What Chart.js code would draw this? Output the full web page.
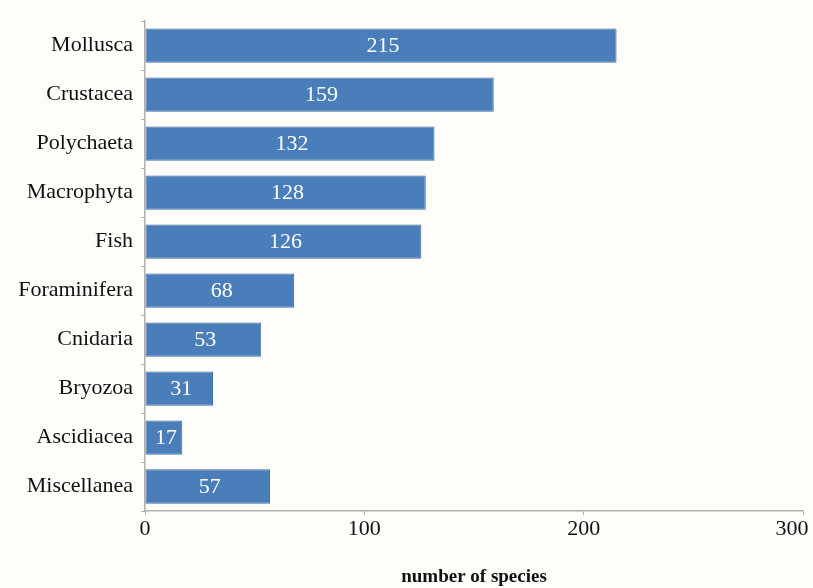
<!DOCTYPE html>
<html>
<head>
<meta charset="utf-8">
<script src="https://cdn.jsdelivr.net/npm/chart.js@4/dist/chart.umd.min.js"></script>
<style>
  html, body { margin: 0; padding: 0; background: #fffdfa; }
  #wrap { width: 813px; height: 588px; }
</style>
</head>
<body>
<div id="wrap"><canvas id="chart"></canvas></div>
<script>
const categories = ['Mollusca', 'Crustacea', 'Polychaeta', 'Macrophyta', 'Fish',
  'Foraminifera', 'Cnidaria', 'Bryozoa', 'Ascidiacea', 'Miscellanea'];
const species = [215, 159, 132, 128, 126, 68, 53, 31, 17, 57];
const xTicks = [0, 100, 200, 300];

const serif = '"Liberation Serif", "DejaVu Serif", serif';

// white value labels centred in each bar
const barLabels = {
  id: 'barLabels',
  afterDatasetsDraw(chart) {
    const ctx = chart.ctx;
    const meta = chart.getDatasetMeta(0);
    ctx.save();
    ctx.fillStyle = '#ffffff';
    ctx.font = '22px ' + serif;
    ctx.textAlign = 'center';
    ctx.textBaseline = 'middle';
    meta.data.forEach((bar, i) => {
      const cx = (bar.x + bar.base) / 2;
      ctx.fillText(String(species[i]), cx + 2, bar.y + 1);
    });
    ctx.restore();
  }
};

new Chart(document.getElementById('chart'), {
  type: 'bar',
  data: {
    labels: categories,
    datasets: [{
      data: species,
      backgroundColor: '#4a7ebb',
      borderColor: '#416fa6',
      borderWidth: 1,
      borderSkipped: false,
      categoryPercentage: 1,
      barPercentage: 0.7
    }]
  },
  options: {
    indexAxis: 'y',
    responsive: true,
    maintainAspectRatio: false,
    animation: false,
    layout: { padding: { left: 0, right: 0, top: 17, bottom: 0 } },
    plugins: {
      legend: { display: false },
      tooltip: { enabled: false }
    },
    scales: {
      x: {
        min: 0,
        max: 300,
        afterBuildTicks: (scale) => { scale.ticks = xTicks.map(v => ({ value: v })); },
        afterFit: (scale) => { scale.height = 77; scale.paddingRight = 10; },
        border: { display: true, color: '#b0b0b0', width: 1.5 },
        grid: { drawOnChartArea: false, tickLength: 4, color: '#b0b0b0' },
        ticks: {
          color: '#111',
          font: { family: serif, size: 22 },
          padding: 1,
          maxRotation: 0,
          // last label sits a little left of its tick, as in the original
          callback: (v) => v === 300 ? '300\u2007\u2007' : String(v)
        },
        title: {
          display: true,
          text: 'number of species',
          color: '#111',
          font: { family: serif, size: 19, weight: 'bold' },
          padding: { top: 22, bottom: 0 }
        }
      },
      y: {
        offset: true,
        afterFit: (scale) => { scale.width = 145; },
        border: { display: true, color: '#b0b0b0', width: 1.5 },
        grid: { offset: true, drawOnChartArea: false, tickLength: 4, color: '#b0b0b0' },
        ticks: {
          color: '#111',
          font: { family: serif, size: 22 },
          padding: 8
        }
      }
    }
  },
  plugins: [barLabels]
});
</script>
</body>
</html>
